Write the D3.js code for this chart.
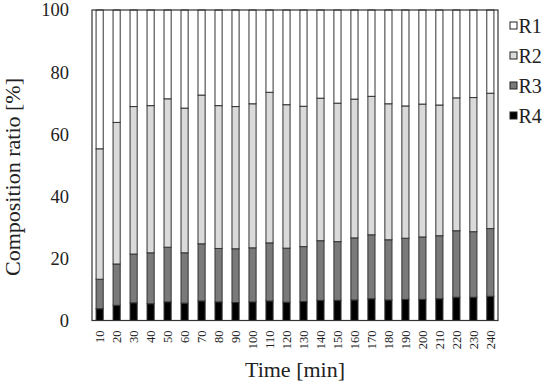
<!DOCTYPE html>
<html>
<head>
<meta charset="utf-8">
<script src="https://cdn.jsdelivr.net/npm/d3@7"></script>
<style>
  body { margin: 0; background: #fff; }
  svg { display: block; font-family: "Liberation Serif", "Times New Roman", serif; }
</style>
</head>
<body>
<div id="chart"></div>
<script>
// time points [min]
const times = [10, 20, 30, 40, 50, 60, 70, 80, 90, 100, 110, 120, 130, 140, 150, 160, 170, 180, 190, 200, 210, 220, 230, 240];

// composition ratio [%] per fraction
const r4 = [3.8, 4.9, 5.7, 5.4, 6.0, 5.6, 6.3, 6.0, 5.8, 6.0, 6.3, 5.9, 6.1, 6.5, 6.5, 6.6, 7.0, 6.6, 6.8, 6.8, 7.0, 7.5, 7.5, 7.8];
const r3 = [9.5, 13.3, 15.7, 16.4, 17.6, 16.2, 18.4, 17.2, 17.3, 17.4, 18.7, 17.4, 17.7, 19.2, 18.9, 20.0, 20.6, 19.4, 19.7, 20.1, 20.3, 21.4, 21.1, 21.8];
const r2 = [42.0, 45.6, 47.5, 47.4, 47.8, 46.6, 47.9, 46.0, 45.8, 46.4, 48.5, 46.2, 45.2, 45.9, 44.6, 44.7, 44.6, 43.8, 42.6, 42.8, 42.1, 42.8, 43.2, 43.6];
const r1 = [44.7, 36.2, 31.1, 30.8, 28.6, 31.6, 27.4, 30.8, 31.1, 30.2, 26.5, 30.5, 31.0, 28.4, 30.0, 28.7, 27.8, 30.2, 30.9, 30.3, 30.6, 28.3, 28.2, 26.8];

const yTicks = [0, 20, 40, 60, 80, 100];
const legendKeys = ["R1", "R2", "R3", "R4"];
const fills = { R1: "#ffffff", R2: "#dadada", R3: "#7a7a7a", R4: "#000000" };

const W = 550, H = 386;
const margin = { top: 10, right: 52, bottom: 65.5, left: 92 };
const iw = W - margin.left - margin.right;
const ih = H - margin.top - margin.bottom;

const rows = times.map((t, i) => ({ t, R1: r1[i], R2: r2[i], R3: r3[i], R4: r4[i] }));
const series = d3.stack().keys(["R4", "R3", "R2", "R1"])(rows);

const svg = d3.select("#chart").append("svg").attr("width", W).attr("height", H);
const g = svg.append("g").attr("transform", `translate(${margin.left},${margin.top})`);

const x = d3.scaleBand().domain(times).range([0, iw]).paddingInner(0.58).paddingOuter(0.24);
const y = d3.scaleLinear().domain([0, 100]).range([ih, 0]);

// bars
g.append("g").selectAll("g").data(series).join("g")
  .attr("fill", d => fills[d.key])
  .selectAll("rect").data(d => d).join("rect")
  .attr("x", d => x(d.data.t))
  .attr("y", d => y(d[1]))
  .attr("width", x.bandwidth())
  .attr("height", d => y(d[0]) - y(d[1]))
  .attr("stroke", "#333")
  .attr("stroke-width", 1);

// frame
g.append("rect")
  .attr("width", iw).attr("height", ih)
  .attr("fill", "none").attr("stroke", "#333").attr("stroke-width", 1.2);

// y tick labels (no tick marks)
g.append("g").selectAll("text").data(yTicks).join("text")
  .attr("x", -23)
  .attr("y", d => y(d))
  .attr("dy", "0.35em")
  .attr("text-anchor", "end")
  .attr("font-size", 18.5)
  .attr("fill", "#222")
  .text(d => d);

// x tick labels, rotated
g.append("g").selectAll("text").data(times).join("text")
  .attr("transform", d => `translate(${x(d) + x.bandwidth() / 2},${ih + 10}) rotate(-90)`)
  .attr("dy", "0.35em")
  .attr("text-anchor", "end")
  .attr("font-size", 12.5)
  .attr("fill", "#222")
  .text(d => d);

// axis titles
svg.append("text")
  .attr("x", margin.left + iw / 2)
  .attr("y", 377)
  .attr("text-anchor", "middle")
  .attr("font-size", 22)
  .attr("fill", "#222")
  .text("Time [min]");

svg.append("text")
  .attr("transform", "translate(20,177) rotate(-90)")
  .attr("text-anchor", "middle")
  .attr("font-size", 22)
  .attr("fill", "#222")
  .text("Composition ratio [%]");

// legend
const lg = svg.append("g").attr("transform", "translate(510,25.5)");
const item = lg.selectAll("g").data(legendKeys).join("g")
  .attr("transform", (d, i) => `translate(0,${i * 30})`);
item.append("rect")
  .attr("x", 0).attr("y", -3.5).attr("width", 7).attr("height", 7)
  .attr("fill", d => fills[d]).attr("stroke", "#222").attr("stroke-width", 1);
item.append("text")
  .attr("x", 8.5).attr("dy", "0.35em")
  .attr("font-size", 20)
  .attr("fill", "#222")
  .text(d => d);
</script>
</body>
</html>
